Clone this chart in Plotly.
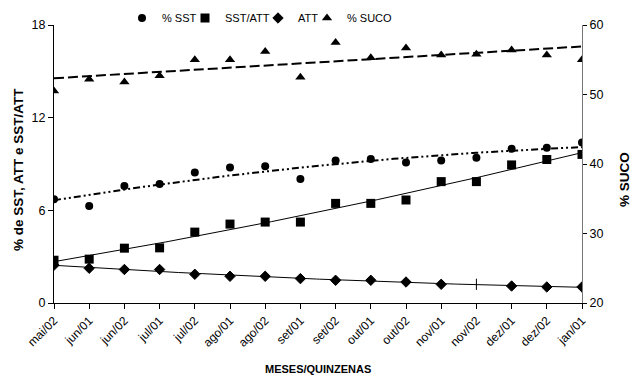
import numpy as np
import plotly.graph_objects as go

categories = ["mai/02", "jun/01", "jun/02", "jul/01", "jul/02", "ago/01", "ago/02", "set/01",
              "set/02", "out/01", "out/02", "nov/01", "nov/02", "dez/01", "dez/02", "jan/01"]
sst = [6.71, 6.28, 7.58, 7.71, 8.45, 8.77, 8.86, 8.03, 9.22, 9.32, 9.09, 9.22, 9.40, 9.98, 10.06, 10.39]
sst_att = [2.77, 2.84, 3.55, 3.57, 4.59, 5.11, 5.24, 5.24, 6.45, 6.45, 6.67, 7.86, 7.86, 8.94, 9.29, 9.62]
att = [2.45, 2.25, 2.17, 2.17, 1.86, 1.73, 1.73, 1.58, 1.47, 1.47, 1.36, 1.21, 1.21, 1.10, 1.04, 1.04]
suco = [50.5, 52.2, 51.8, 52.7, 55.0, 55.0, 56.2, 52.5, 57.5, 55.3, 56.7, 55.7, 55.8, 56.4, 55.7, 55.0]
left_ticks = [0, 6, 12, 18]
right_ticks = [20, 30, 40, 50, 60]

FONT = "Liberation Sans, Arial, sans-serif"
W, H = 633, 378
ML, MR, MT, MB = 54, 51, 25, 75
PW = W - ML - MR
PH = H - MT - MB

x = np.arange(len(categories))
xf = np.linspace(0, len(categories) - 1, 200)


def trend(vals, deg=2):
    c = np.polyfit(x, vals, deg)
    return np.polyval(c, xf)


def px_x(p):
    return (p - ML) / PW


def px_y(p):
    return (H - MB - p) / PH


fig = go.Figure()

# trend lines
fig.add_trace(go.Scatter(x=xf, y=trend(sst), mode="lines", showlegend=False, hoverinfo="skip",
                         line=dict(color="black", width=2, dash="7px,3px,2px,3px,2px,3px")))
fig.add_trace(go.Scatter(x=xf, y=trend(sst_att), mode="lines", showlegend=False, hoverinfo="skip",
                         line=dict(color="black", width=1)))
fig.add_trace(go.Scatter(x=xf, y=trend(att), mode="lines", showlegend=False, hoverinfo="skip",
                         line=dict(color="black", width=1)))
fig.add_trace(go.Scatter(x=xf, y=trend(suco, 1), mode="lines", showlegend=False, hoverinfo="skip",
                         yaxis="y2", line=dict(color="black", width=2, dash="10px,4px")))

# markers
fig.add_trace(go.Scatter(x=x, y=sst, mode="markers", name="% SST", legend="legend",
                         marker=dict(symbol="circle", size=8, color="black")))
fig.add_trace(go.Scatter(x=x, y=sst_att, mode="markers", name="SST/ATT", legend="legend2",
                         marker=dict(symbol="square", size=9, color="black")))
att_symbols = ["diamond"] * len(att)
att_symbols[12] = "line-ns-open"
fig.add_trace(go.Scatter(x=x, y=att, mode="markers", name="ATT", legend="legend3",
                         marker=dict(symbol=att_symbols, size=8, color="black",
                                     line=dict(color="black", width=1))))
fig.add_trace(go.Scatter(x=x, y=suco, mode="markers", name="% SUCO", yaxis="y2", legend="legend4",
                         marker=dict(symbol="triangle-up", size=9, color="black")))

legend_marker_px = [142, 205, 278, 327]
leg_common = dict(orientation="h", xanchor="left", yanchor="middle", y=px_y(18),
                  font=dict(size=11, family=FONT), itemwidth=30, bgcolor="rgba(0,0,0,0)",
                  borderwidth=0)
legends = {}
for i, mpx in enumerate(legend_marker_px):
    key = "legend" if i == 0 else f"legend{i + 1}"
    legends[key] = dict(leg_common, x=px_x(mpx - 20))

fig.update_layout(
    width=W, height=H,
    margin=dict(l=ML, r=MR, t=MT, b=MB, autoexpand=False),
    paper_bgcolor="white", plot_bgcolor="white",
    font=dict(family=FONT, size=12, color="black"),
    showlegend=True,
    **legends,
    xaxis=dict(range=[0, len(categories) - 1], tickmode="array", tickvals=list(x),
               ticktext=categories, tickangle=-45, showgrid=False, zeroline=False,
               showline=True, linecolor="black", linewidth=1, ticks="outside",
               ticklen=5, tickcolor="black", tickfont=dict(size=12), automargin=False),
    yaxis=dict(range=[0, 18], tickmode="array", tickvals=left_ticks, showgrid=False,
               zeroline=False, showline=True, linecolor="black", linewidth=1,
               ticks="outside", ticklen=5, tickcolor="black", tickfont=dict(size=12.5),
               automargin=False),
    yaxis2=dict(range=[20, 60], tickmode="array", tickvals=right_ticks, overlaying="y",
                side="right", showgrid=False, zeroline=False, showline=True,
                linecolor="#777777", linewidth=1, ticks="outside", ticklen=4,
                tickcolor="black", tickfont=dict(size=12.5), automargin=False),
    annotations=[
        dict(text="<b>MESES/QUINZENAS</b>", xref="paper", yref="paper",
             x=px_x(318), y=px_y(369), xanchor="center", yanchor="middle",
             showarrow=False, font=dict(size=11)),
        dict(text="<b>% de SST, ATT e SST/ATT</b>", xref="paper", yref="paper",
             x=px_x(18), y=px_y(170), xanchor="center", yanchor="middle",
             textangle=-90, showarrow=False, font=dict(size=13.5)),
        dict(text="<b>% SUCO</b>", xref="paper", yref="paper",
             x=px_x(624), y=px_y(180), xanchor="center", yanchor="middle",
             textangle=-90, showarrow=False, font=dict(size=13.5)),
    ],
)

fig.write_html("out.html", post_script="document.body.style.margin='0';",
               config={"displayModeBar": False})
